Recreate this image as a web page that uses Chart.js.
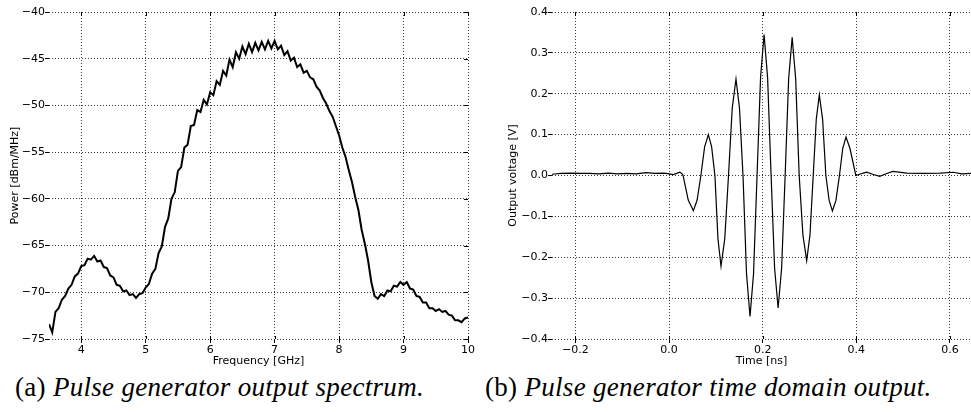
<!DOCTYPE html>
<html>
<head>
<meta charset="utf-8">
<script src="https://cdn.jsdelivr.net/npm/chart.js@4"></script>
<style>
  body { margin: 0; background: #fff; width: 971px; height: 413px; position: relative; overflow: hidden; }
  canvas { position: absolute; top: 0; }
  #spectrum { left: 0; }
  #pulse { left: 480px; }
  .cap { position: absolute; top: 372px; font-family: "Liberation Serif", serif; font-size: 27px; letter-spacing: 0.3px; color: #000; white-space: nowrap; }
  .cap i { font-style: italic; }
</style>
</head>
<body>
<canvas id="spectrum" width="480" height="372"></canvas>
<canvas id="pulse" width="491" height="372"></canvas>
<div class="cap" style="left:15px">(a) <i>Pulse generator output spectrum.</i></div>
<div class="cap" style="left:485px">(b) <i>Pulse generator time domain output.</i></div>
<script>
// (a) spectrum
var freqGHz = [3.50, 3.55, 3.60, 3.65, 3.70, 3.75, 3.80, 3.85, 3.90, 3.95,
  4.00, 4.05, 4.10, 4.15, 4.20, 4.25, 4.30, 4.35, 4.40, 4.45,
  4.50, 4.55, 4.60, 4.65, 4.70, 4.75, 4.80, 4.85, 4.90, 4.95,
  5.00, 5.05, 5.10, 5.15, 5.20, 5.25, 5.30, 5.35, 5.40, 5.45,
  5.50, 5.55, 5.60, 5.65, 5.70, 5.75, 5.80, 5.85, 5.90, 5.95,
  6.00, 6.05, 6.10, 6.15, 6.20, 6.25, 6.30, 6.35, 6.40, 6.45,
  6.50, 6.55, 6.60, 6.65, 6.70, 6.75, 6.80, 6.85, 6.90, 6.95,
  7.00, 7.05, 7.10, 7.15, 7.20, 7.25, 7.30, 7.35, 7.40, 7.45,
  7.50, 7.55, 7.60, 7.65, 7.70, 7.75, 7.80, 7.85, 7.90, 7.95,
  8.00, 8.05, 8.10, 8.15, 8.20, 8.25, 8.30, 8.35, 8.40, 8.45,
  8.50, 8.55, 8.60, 8.65, 8.70, 8.75, 8.80, 8.85, 8.90, 8.95,
  9.00, 9.05, 9.10, 9.15, 9.20, 9.25, 9.30, 9.35, 9.40, 9.45,
  9.50, 9.55, 9.60, 9.65, 9.70, 9.75, 9.80, 9.85, 9.90, 9.95, 10.00];
var powerDbm = [-73.4, -74.3, -72.1, -71.7, -70.8, -70.4, -69.6, -69.2, -68.3, -68.0,
  -67.2, -67.1, -66.4, -66.5, -66.1, -66.7, -66.6, -67.3, -67.4, -68.2,
  -68.4, -69.2, -69.3, -69.9, -69.8, -70.3, -70.2, -70.6, -70.2, -70.1,
  -69.5, -69.1, -68.0, -67.5, -65.8, -65.1, -63.0, -62.1, -60.0, -59.3,
  -57.0, -56.6, -54.5, -54.2, -52.2, -52.1, -50.5, -50.7, -49.4, -49.9,
  -48.6, -48.9, -47.4, -47.8, -46.3, -46.8, -45.1, -45.9, -44.3, -45.0,
  -43.7, -44.5, -43.4, -44.3, -43.3, -44.1, -43.2, -44.0, -43.1, -43.9,
  -43.1, -44.0, -43.6, -44.6, -44.2, -45.2, -44.9, -45.9, -45.6, -46.5,
  -46.3, -47.0, -47.2, -48.0, -48.4, -49.2, -49.8, -50.6, -51.2, -52.2,
  -53.2, -54.5, -55.5, -56.9, -58.2, -59.8, -61.2, -63.3, -64.8, -66.6,
  -68.9, -70.4, -70.7, -70.2, -70.4, -69.8, -69.9, -69.3, -69.4, -68.9,
  -69.2, -68.9, -69.6, -69.7, -70.4, -70.5, -71.1, -71.1, -71.7, -71.7,
  -72.0, -71.8, -72.1, -72.0, -72.4, -72.5, -73.0, -73.0, -73.2, -72.8, -72.7];
var freqTicks = [4, 5, 6, 7, 8, 9, 10];
var powerTicks = [-75, -70, -65, -60, -55, -50, -45, -40];

// (b) time domain
var timeNs = [-0.25, -0.23, -0.21, -0.19, -0.17, -0.15, -0.13, -0.11, -0.09, -0.07,
  -0.05, -0.03, -0.01, 0.000, 0.009, 0.023, 0.028,
  0.030, 0.041, 0.052, 0.060, 0.068, 0.076, 0.084, 0.091, 0.098,
  0.1045, 0.111, 0.119, 0.127, 0.135, 0.143, 0.1505, 0.158,
  0.1655, 0.173, 0.1805, 0.188, 0.1955, 0.203, 0.2105, 0.218,
  0.2255, 0.233, 0.2405, 0.248, 0.2555, 0.263, 0.2705, 0.278,
  0.286, 0.294, 0.301, 0.308, 0.3145, 0.321, 0.328, 0.335,
  0.342, 0.349, 0.3565, 0.364, 0.371, 0.378, 0.3865, 0.399,
  0.415, 0.422, 0.435, 0.450, 0.465, 0.478, 0.508, 0.543, 0.579, 0.607, 0.625, 0.645];
var voltage = [0.003, 0.005, 0.006, 0.005, 0.005, 0.004, 0.006, 0.004, 0.005, 0.004,
  0.007, 0.005, 0.006, 0.004, 0.002, 0.008, 0.004,
  0.000, -0.060, -0.086, -0.060, 0.000, 0.070, 0.100, 0.070, 0.000,
  -0.155, -0.222, -0.155, 0.000, 0.165, 0.236, 0.165, 0.000,
  -0.240, -0.345, -0.240, 0.000, 0.240, 0.345, 0.240, 0.000,
  -0.227, -0.324, -0.227, 0.000, 0.237, 0.338, 0.237, 0.000,
  -0.146, -0.208, -0.146, 0.000, 0.138, 0.197, 0.138, 0.000,
  -0.061, -0.087, -0.061, 0.000, 0.066, 0.094, 0.066, 0.000,
  0.006, 0.008, 0.003, -0.002, 0.005, 0.010, 0.006, 0.005, 0.006, 0.008, 0.004, 0.005];
var timeTicks = [-0.2, 0.0, 0.2, 0.4, 0.6];
var voltTicks = [-0.4, -0.3, -0.2, -0.1, 0.0, 0.1, 0.2, 0.3, 0.4];

var tickFont = { family: 'DejaVu Sans', size: 11 };

function minus(s) { return String(s).replace('-', '\u2212'); }

// small inward tick marks on the top and right edges (matplotlib style)
var edgeTicks = {
    id: 'edgeTicks',
    afterDraw: function (chart) {
        var ctx = chart.ctx, area = chart.chartArea;
        var xs = chart.scales.x, ys = chart.scales.y;
        ctx.save();
        ctx.strokeStyle = '#000';
        ctx.lineWidth = 1;
        ctx.beginPath();
        xs.ticks.forEach(function (t) {
            var px = Math.round(xs.getPixelForValue(t.value)) + 0.5;
            ctx.moveTo(px, area.top);
            ctx.lineTo(px, area.top + 4);
            ctx.moveTo(px, area.bottom);
            ctx.lineTo(px, area.bottom - 3);
        });
        if (chart.options.plugins.edgeTicks.right) {
            ys.ticks.forEach(function (t) {
                var py = Math.round(ys.getPixelForValue(t.value)) + 0.5;
                ctx.moveTo(area.right, py);
                ctx.lineTo(area.right - 4, py);
            });
        }
        ctx.stroke();
        ctx.restore();
    }
};

function axis(opts) {
    return {
        type: 'linear',
        min: opts.min,
        max: opts.max,
        afterBuildTicks: function (scale) {
            scale.ticks = opts.ticks.map(function (v) { return { value: v }; });
        },
        afterFit: opts.fit,
        border: { display: false, dash: [1, 2] },
        grid: {
            color: '#3a3a3a',
            lineWidth: 1,
            tickBorderDash: [],
            tickColor: '#000',
            tickLength: 4
        },
        ticks: {
            color: '#000',
            font: tickFont,
            padding: opts.pad,
            maxRotation: 0,
            callback: opts.fmt
        },
        title: {
            display: true,
            text: opts.title,
            color: '#000',
            font: tickFont,
            padding: opts.titlePad
        }
    };
}

function makeChart(id, xs, ys, width, xOpts, yOpts, padRight) {
    var pts = xs.map(function (x, i) { return { x: x, y: ys[i] }; });
    return new Chart(document.getElementById(id), {
        type: 'line',
        data: {
            datasets: [{
                data: pts,
                borderColor: '#000',
                borderWidth: width,
                pointRadius: 0,
                tension: 0,
                fill: false
            }]
        },
        options: {
            responsive: false,
            animation: false,
            plugins: {
                legend: { display: false },
                tooltip: { enabled: false },
                edgeTicks: { right: padRight > 0 }
            },
            layout: { padding: { top: 12, right: padRight, left: 0, bottom: 0 } },
            scales: { x: axis(xOpts), y: axis(yOpts) }
        },
        plugins: [edgeTicks]
    });
}

makeChart('spectrum', freqGHz, powerDbm, 2, {
    min: 3.5, max: 10, ticks: freqTicks, pad: 1,
    fmt: function (v) { return minus(v); },
    fit: function (s) { s.height = 33; },
    title: 'Frequency [GHz]', titlePad: { top: 0, bottom: 4 }
}, {
    min: -75, max: -40, ticks: powerTicks, pad: 0,
    fmt: function (v) { return minus(v); },
    fit: function (s) { s.width = 49; },
    title: 'Power [dBm/MHz]', titlePad: { top: 9, bottom: 0 }
}, 12);

makeChart('pulse', timeNs, voltage, 1.2, {
    min: -0.25, max: 0.645, ticks: timeTicks, pad: 1,
    fmt: function (v) { return minus(v.toFixed(1)); },
    fit: function (s) { s.height = 33; },
    title: 'Time [ns]', titlePad: { top: 0, bottom: 4 }
}, {
    min: -0.4, max: 0.4, ticks: voltTicks, pad: 0,
    fmt: function (v) { return minus(v.toFixed(1)); },
    fit: function (s) { s.width = 72; },
    title: 'Output voltage [V]', titlePad: { top: 27, bottom: 0 }
}, 0);
</script>
</body>
</html>
